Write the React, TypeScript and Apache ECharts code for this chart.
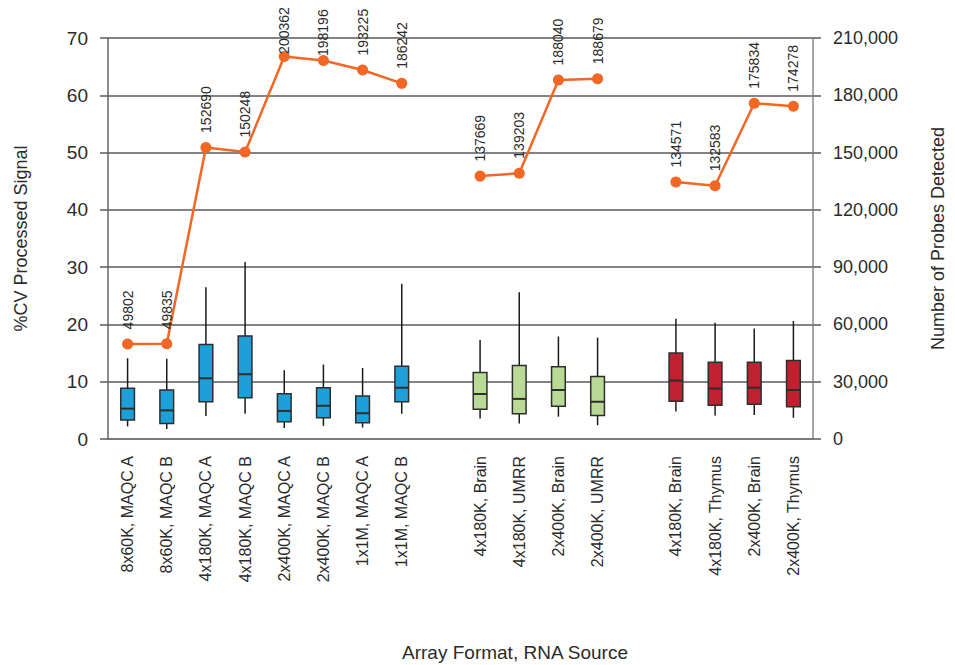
import React, { useEffect, useRef } from "react";
import * as echarts from "echarts";

// Array format / RNA source combinations; empty strings separate the three groups
const categories = [
  "8x60K, MAQC A",
  "8x60K, MAQC B",
  "4x180K, MAQC A",
  "4x180K, MAQC B",
  "2x400K, MAQC A",
  "2x400K, MAQC B",
  "1x1M, MAQC A",
  "1x1M, MAQC B",
  "",
  "4x180K, Brain",
  "4x180K, UMRR",
  "2x400K, Brain",
  "2x400K, UMRR",
  "",
  "4x180K, Brain",
  "4x180K, Thymus",
  "2x400K, Brain",
  "2x400K, Thymus",
];

// %CV processed signal – box plot statistics
const whiskerLow = [2.2, 1.75, 4.0, 4.4, 1.9, 2.3, 2.0, 4.4, null, 3.6, 2.7, 3.9, 2.4, null, 4.8, 4.1, 4.2, 3.7];
const quartile1 = [3.3, 2.7, 6.5, 7.2, 3.0, 3.7, 2.85, 6.5, null, 5.2, 4.4, 5.7, 4.1, null, 6.6, 5.9, 6.05, 5.65];
const medians = [5.3, 5.0, 10.6, 11.3, 4.9, 5.8, 4.5, 8.95, null, 7.85, 7.0, 8.55, 6.5, null, 10.2, 8.8, 8.95, 8.55];
const quartile3 = [8.85, 8.55, 16.5, 18.0, 7.9, 8.95, 7.5, 12.7, null, 11.6, 12.85, 12.6, 10.9, null, 15.0, 13.4, 13.4, 13.7];
const whiskerHigh = [14.1, 14.0, 26.5, 30.9, 12.0, 13.0, 12.4, 27.1, null, 17.3, 25.6, 17.9, 17.7, null, 21.0, 20.3, 19.3, 20.6];

// Sample group of each box (0 = MAQC, 1 = Brain/UMRR, 2 = Brain/Thymus)
const boxGroup = [0, 0, 0, 0, 0, 0, 0, 0, null, 1, 1, 1, 1, null, 2, 2, 2, 2];

// Number of probes detected
const probesDetected = [
  49802, 49835, 152690, 150248, 200362, 198196, 193225, 186242, null,
  137669, 139203, 188040, 188679, null,
  134571, 132583, 175834, 174278,
];

// Axis ticks
const cvTicks = { min: 0, max: 70, interval: 10 };
const probeTicks = { min: 0, max: 210000, interval: 30000 };

const groupColors = ["#1E9FD8", "#B8DA95", "#C0202F"];
const lineColor = "#F26724";
const font = '"Liberation Sans", Arial, Helvetica, sans-serif';
const textColor = "#2b2b2b";
const gridColor = "#5a5a5a";

// Labels near the top edge sit closer to their markers
const labelNudge: Record<number, number> = { 4: -3, 5: -1 };

export default function App() {
  const ref = useRef<HTMLDivElement>(null);

  useEffect(() => {
    if (!ref.current) return;
    const chart = echarts.init(ref.current, undefined, { renderer: "svg" });

    const boxData = categories
      .map((_, i) =>
        boxGroup[i] === null
          ? null
          : [i, whiskerLow[i], quartile1[i], medians[i], quartile3[i], whiskerHigh[i], boxGroup[i]]
      )
      .filter((d) => d !== null);

    const lineData = probesDetected.map((v, i) =>
      i in labelNudge ? { value: v, label: { distance: labelNudge[i] } } : v
    );

    chart.setOption({
      animation: false,
      grid: { left: 108, right: 127, top: 38, bottom: 226, containLabel: false },
      xAxis: {
        type: "category",
        data: categories,
        boundaryGap: true,
        axisLine: { show: true, lineStyle: { color: "#777", width: 1.5 } },
        axisTick: { show: false },
        axisLabel: {
          rotate: 90,
          margin: 17,
          interval: 0,
          fontFamily: font,
          fontSize: 16,
          color: textColor,
        },
      },
      yAxis: [
        {
          type: "value",
          ...cvTicks,
          name: "%CV Processed Signal",
          nameLocation: "middle",
          nameRotate: 90,
          nameGap: 78,
          nameTextStyle: { fontFamily: font, fontSize: 18, color: textColor },
          axisLine: { show: true, lineStyle: { color: "#666", width: 1.5 } },
          axisTick: { show: true, inside: false, length: 8, lineStyle: { color: gridColor, width: 1.5 } },
          axisLabel: { fontFamily: font, fontSize: 19, color: textColor, margin: 20 },
          splitLine: { show: true, lineStyle: { color: gridColor, width: 1.5 } },
        },
        {
          type: "value",
          ...probeTicks,
          position: "right",
          name: "Number of Probes Detected",
          nameLocation: "middle",
          nameRotate: 90,
          nameGap: 116,
          nameTextStyle: { fontFamily: font, fontSize: 18, color: textColor },
          axisLine: { show: true, lineStyle: { color: "#888", width: 1.5 } },
          axisTick: { show: true, inside: false, length: 8, lineStyle: { color: gridColor, width: 1.5 } },
          axisLabel: {
            fontFamily: font,
            fontSize: 18,
            color: textColor,
            margin: 20,
            formatter: (v: number) => v.toLocaleString("en-US"),
          },
          splitLine: { show: false },
        },
      ],
      graphic: [
        {
          type: "text",
          x: 515,
          y: 652,
          style: {
            text: "Array Format, RNA Source",
            fontFamily: font,
            fontSize: 19,
            fill: textColor,
            textAlign: "center",
            textVerticalAlign: "middle",
          },
        },
      ],
      series: [
        {
          type: "custom",
          name: "%CV",
          xAxisIndex: 0,
          yAxisIndex: 0,
          data: boxData,
          encode: { x: 0, y: [1, 2, 3, 4, 5] },
          z: 2,
          renderItem: (params: any, api: any) => {
            const x = api.value(0);
            const lo = api.coord([x, api.value(1)]);
            const q1 = api.coord([x, api.value(2)]);
            const med = api.coord([x, api.value(3)]);
            const q3 = api.coord([x, api.value(4)]);
            const hi = api.coord([x, api.value(5)]);
            const color = groupColors[api.value(6)];
            const w = api.size([1, 0])[0] * 0.35;
            const cx = lo[0];
            return {
              type: "group",
              children: [
                {
                  type: "line",
                  shape: { x1: cx, y1: hi[1], x2: cx, y2: lo[1] },
                  style: { stroke: "#1a1a1a", lineWidth: 1.5 },
                },
                {
                  type: "rect",
                  shape: { x: cx - w / 2, y: q3[1], width: w, height: q1[1] - q3[1] },
                  style: { fill: color, stroke: "#2e2e2e", lineWidth: 1.5 },
                },
                {
                  type: "line",
                  shape: { x1: cx - w / 2, y1: med[1], x2: cx + w / 2, y2: med[1] },
                  style: { stroke: "#2e2e2e", lineWidth: 2 },
                },
              ],
            };
          },
        },
        {
          type: "line",
          name: "Probes",
          xAxisIndex: 0,
          yAxisIndex: 1,
          data: lineData,
          connectNulls: false,
          z: 3,
          symbol: "circle",
          symbolSize: 11,
          lineStyle: { color: lineColor, width: 2.5 },
          itemStyle: { color: lineColor },
          label: {
            show: true,
            position: "top",
            distance: 9,
            rotate: 90,
            align: "left",
            verticalAlign: "middle",
            fontFamily: font,
            fontSize: 14,
            color: textColor,
          },
        },
      ],
    });

    return () => chart.dispose();
  }, []);

  return (
    <div
      ref={ref}
      style={{ position: "fixed", left: 0, top: 0, width: 955, height: 665, background: "#fff" }}
    />
  );
}
